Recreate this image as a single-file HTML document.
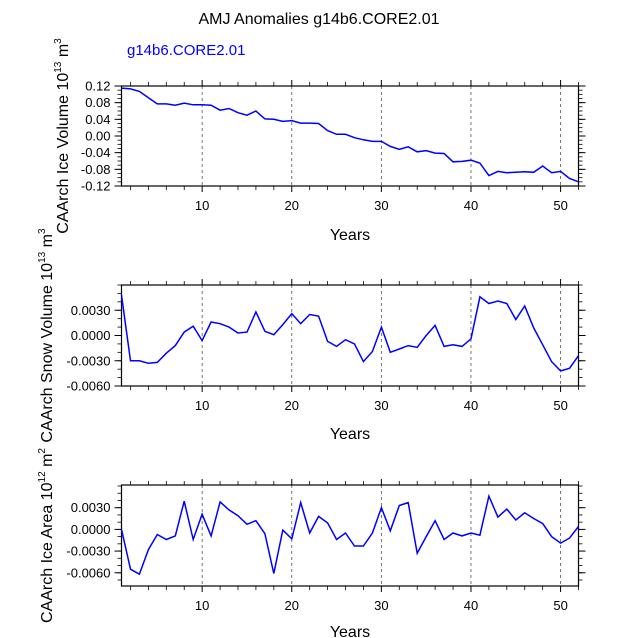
<!DOCTYPE html>
<html><head><meta charset="utf-8"><style>
html,body{margin:0;padding:0;background:#fff}
svg{display:block;font-family:"Liberation Sans",Arial,sans-serif}
</style></head><body>
<svg id="chart" width="638" height="638" viewBox="0 0 638 638" xmlns="http://www.w3.org/2000/svg">
<text x="319" y="24" text-anchor="middle" font-size="16">AMJ Anomalies g14b6.CORE2.01</text>
<text x="127" y="55" font-size="15" fill="#0000ff">g14b6.CORE2.01</text>
</svg>
<script>
const years = Array.from({length:52},(_,i)=>i+1);
const iceVolume = [.115,.113,.107,.092,.077,.077,.074,.079,.075,.075,.074,.062,.066,.056,.050,.060,.041,.040,.035,.037,.031,.031,.030,.013,.004,.004,-.004,-.009,-.013,-.013,-.025,-.032,-.026,-.038,-.035,-.041,-.042,-.062,-.061,-.058,-.065,-.095,-.085,-.088,-.087,-.086,-.087,-.072,-.088,-.085,-.102,-.110];
const snowVolume = [.0048,-.0030,-.0030,-.0033,-.0032,-.0021,-.0012,.0004,.0011,-.0006,.0016,.0014,.0010,.0003,.0004,.0028,.0005,.0001,.0013,.0026,.0014,.0025,.0023,-.0007,-.0013,-.0005,-.0010,-.0031,-.0019,.0010,-.0020,-.0016,-.0012,-.0014,.0000,.0012,-.0013,-.0011,-.0013,-.0004,.0046,.0038,.0041,.0038,.0019,.0035,.0009,-.0011,-.0031,-.0042,-.0039,-.0024];
const iceArea = [0,-.0055,-.0062,-.0028,-.0007,-.0014,-.0009,.0039,-.0014,.0021,-.0009,.0038,.0027,.0019,.0007,.0012,-.0006,-.0061,-.0001,-.0013,.0037,-.0005,.0018,.0009,-.0014,-.0005,-.0023,-.0023,-.0005,.0030,-.0002,.0033,.0037,-.0033,-.0010,.0012,-.0014,-.0005,-.0009,-.0005,-.0008,.0046,.0017,.0028,.0013,.0023,.0015,.0008,-.0010,-.0019,-.0012,.0004];
const xTicks = [10,20,30,40,50];
const ticks1 = [0.12,0.08,0.04,0.00,-0.04,-0.08,-0.12];
const ticks2 = [0.003,0,-0.003,-0.006];
const ticks3 = [0.003,0,-0.003,-0.006];

const NS="http://www.w3.org/2000/svg", svg=document.getElementById('chart');
function mk(tag,attrs,parent){const e=document.createElementNS(NS,tag);for(const k in attrs)e.setAttribute(k,attrs[k]);(parent||svg).appendChild(e);return e;}
const X0=121.5,X1=578.5;
const sx=v=>X0+(v-1)*(X1-X0)/51;

const panels=[
 {key:'ice-volume',data:iceVolume,top:86,bot:186,ymin:-0.12,ymax:0.12,ticks:ticks1,fmt:v=>v.toFixed(2),minor:0.01,title:'CAArch Ice Volume 10',sup:'13',unit:' m',usup:'3',tx:62,yearsY:240},
 {key:'snow-volume',data:snowVolume,top:285,bot:386,ymin:-0.006,ymax:0.006,ticks:ticks2,fmt:v=>v.toFixed(4),minor:0.001,title:'CAArch Snow Volume 10',sup:'13',unit:' m',usup:'3',tx:46,yearsY:439},
 {key:'ice-area',data:iceArea,top:485,bot:586,ymin:-0.00783,ymax:0.00614,ticks:ticks3,fmt:v=>v.toFixed(4),minor:0.001,title:'CAArch Ice Area 10',sup:'12',unit:' m',usup:'2',tx:46,yearsY:637}
];
panels.forEach(p=>{
 const g=mk('g',{});
 
 
 const sy=v=>p.bot-(v-p.ymin)*(p.bot-p.top)/(p.ymax-p.ymin);
 xTicks.forEach(t=>{const l=mk('line',{x1:sx(t),x2:sx(t),y1:p.top,y2:p.bot,stroke:'#555','stroke-width':0.8,'stroke-dasharray':'3,3'},g);
  
  });
 for(let v=2;v<=52;v+=2){const major=v%10===0;const len=major?6:4;
  mk('line',{x1:sx(v),x2:sx(v),y1:p.bot,y2:p.bot+len,stroke:'#000','stroke-width':major?1:0.8},g);
  mk('line',{x1:sx(v),x2:sx(v),y1:p.top,y2:p.top-len,stroke:'#000','stroke-width':major?1:0.8},g);}
 xTicks.forEach(t=>{const tx=mk('text',{x:sx(t),y:p.bot+24,'text-anchor':'middle','font-size':13},g);tx.textContent=t;
  
  });
 for(let k=Math.ceil(p.ymin/p.minor-1e-6);k*p.minor<=p.ymax+1e-9;k++){const y=sy(k*p.minor);
  mk('line',{x1:X0,x2:X0-4,y1:y,y2:y,stroke:'#000','stroke-width':0.8},g);
  mk('line',{x1:X1,x2:X1+4,y1:y,y2:y,stroke:'#000','stroke-width':0.8},g);}
 p.ticks.forEach(t=>{const y=sy(t);
  mk('line',{x1:X0,x2:X0-7,y1:y,y2:y,stroke:'#000','stroke-width':1},g);
  mk('line',{x1:X1,x2:X1+7,y1:y,y2:y,stroke:'#000','stroke-width':1},g);
  const tx=mk('text',{x:X0-11,y:y+4.5,'text-anchor':'end','font-size':13},g);tx.textContent=p.fmt(t).replace('-0.0000','0.0000');
  
  });
 mk('rect',{x:X0,y:p.top,width:X1-X0,height:p.bot-p.top,fill:'none',stroke:'#000','stroke-width':1.2},g);
 const pts=p.data.map((v,i)=>sx(years[i]).toFixed(1)+','+sy(v).toFixed(1)).join(' ');
 const pl=mk('polyline',{points:pts,fill:'none',stroke:'#0000ff','stroke-width':1.5},g);
 
 
 const xt=mk('text',{x:350,y:p.yearsY,'text-anchor':'middle','font-size':16},g);xt.textContent='Years';
 
 
 const cy=(p.top+p.bot)/2;
 const yt=mk('text',{x:0,y:0,'text-anchor':'middle','font-size':16,transform:`translate(${p.tx+6},${cy}) rotate(-90)`},g);
 
 
 yt.appendChild(document.createTextNode(p.title));
 const s1=mk('tspan',{dy:-7,'font-size':10},yt);s1.textContent=p.sup;
 const s2=mk('tspan',{dy:7},yt);s2.textContent=p.unit;
 const s3=mk('tspan',{dy:-7,'font-size':10},yt);s3.textContent=p.usup;
});
</script>
</body></html>
